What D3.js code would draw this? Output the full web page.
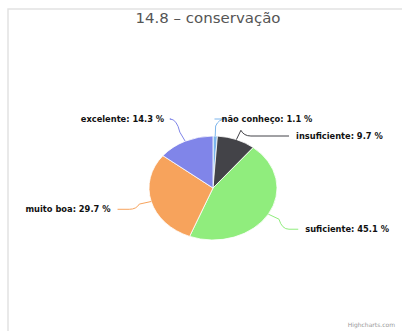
<!DOCTYPE html>
<html><head><meta charset="utf-8">
<script src="https://cdn.jsdelivr.net/npm/d3@7"></script>
<style>html,body{margin:0;padding:0;background:#fff;}svg{display:block;}</style>
</head><body>
<svg id="c" width="402" height="331"></svg>
<script>
const categories = ["não conheço", "insuficiente", "suficiente", "muito boa", "excelente"];
const values = [1.1, 9.7, 45.1, 29.7, 14.3];
const colors = ["#7cb5ec", "#434348", "#90ed7d", "#f7a35c", "#8085e9"];
const title = "14.8 – conservação";

(function () {
const svg = d3.select("#c");
svg.append("rect").attr("x", 8).attr("y", 9).attr("width", 420).attr("height", 340)
  .attr("fill", "none").attr("stroke", "#e2e2e2").attr("stroke-width", 1.5);

svg.append("text").attr("x", 208).attr("y", 25).attr("text-anchor", "middle")
  .attr("font-family", "DejaVu Sans").attr("font-size", 15).attr("fill", "#555")
  .attr("transform", "translate(208,0) scale(1,0.93) translate(-208,0)")
  .text(title);

const cx = 213, cy = 188, r = 52, sx = 64 / 52, dist = 30;
const data = categories.map((c, i) => ({ name: c, value: values[i], color: colors[i] }));
const pie = d3.pie().sort(null).value(d => d.value);
const arcs = pie(data);
const arc = d3.arc().innerRadius(0).outerRadius(r);

const g = svg.append("g").attr("transform", `translate(${cx},${cy}) scale(${sx},1)`);
g.selectAll("path").data(arcs).join("path")
  .attr("d", arc).attr("fill", d => d.data.color)
  .attr("stroke", "#fff").attr("stroke-width", 0.8).attr("vector-effect", "non-scaling-stroke");

const R = r + dist;
const pt = (a, rad) => [cx + rad * sx * Math.sin(a), cy - rad * Math.cos(a)];
const labels = arcs.map(a => {
  const mid = (a.startAngle + a.endAngle) / 2;
  const nat = pt(mid, R);
  return { a, mid, nx: nat[0], ny: nat[1], left: Math.sin(mid) < 0 };
});
const topY = 119, spacing = 17;
[true, false].forEach(side => {
  const ls = labels.filter(l => l.left === side).sort((p, q) => p.ny - q.ny);
  let prev = -Infinity;
  ls.forEach(l => {
    const base = Math.max(l.ny, topY);
    const y = Math.max(base, prev + spacing);
    l.pushed = y > base;
    l.y = y;
    if (l.pushed) {
      const dy = Math.max(-R, Math.min(R, y - cy));
      l.x = cx + (l.left ? -1 : 1) * sx * Math.sqrt(R * R - dy * dy);
    } else {
      l.x = l.nx;
    }
    prev = y;
  });
});

labels.forEach(l => {
  const s0 = pt(l.mid, r), s1 = pt(l.mid, r + 10);
  const dir = l.left ? -1 : 1;
  const p = d3.path();
  p.moveTo(s0[0], s0[1]);
  p.lineTo(s1[0], s1[1]);
  p.quadraticCurveTo(s1[0] + dir * 3, l.y, s1[0] + dir * 10, l.y);
  p.lineTo(l.x - dir * 2, l.y);
  svg.append("path").attr("d", p.toString()).attr("fill", "none")
    .attr("stroke", l.a.data.color).attr("stroke-width", 1);
  svg.append("text")
    .attr("x", l.x + dir * 5).attr("y", l.y).attr("dy", "0.35em")
    .attr("text-anchor", l.left ? "end" : "start")
    .attr("font-family", "DejaVu Sans").attr("font-weight", "bold")
    .attr("font-size", 8.3).attr("fill", "#111")
    .text(`${l.a.data.name}: ${d3.format(".1f")(l.a.data.value)} %`);
});

svg.append("text").attr("x", 395).attr("y", 327).attr("text-anchor", "end")
  .attr("font-family", "DejaVu Sans").attr("font-size", 6).attr("fill", "#999")
  .text("Highcharts.com");
})();
</script>
</body></html>
